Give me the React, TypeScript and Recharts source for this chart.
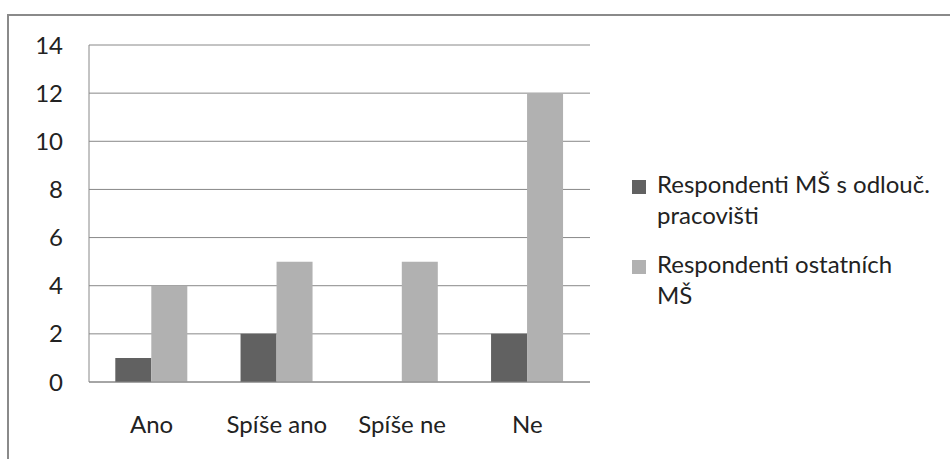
import { BarChart, Bar, XAxis, YAxis, CartesianGrid, Legend } from "recharts";

const categories = ["Ano", "Spíše ano", "Spíše ne", "Ne"];
const odloucena = [1, 2, 0, 2];
const ostatni = [4, 5, 5, 12];
const yTicks = [0, 2, 4, 6, 8, 10, 12, 14];

const seriesNames = ["Respondenti MŠ s odlouč. pracovišti", "Respondenti ostatních MŠ"];
const colors = ["#616161", "#b1b1b1"];

const data = categories.map((name, i) => ({
  name,
  odloucena: odloucena[i],
  ostatni: ostatni[i],
}));

const FONT = "Lato, 'Open Sans', sans-serif";

// legend drawn as HTML so the long names wrap like the original
function LegendBox(props: any) {
  const items = props.payload || [];
  return (
    <div style={{ width: 300, fontFamily: FONT, fontSize: 24, color: "#222" }}>
      {items.map((it: any, i: number) => (
        <div
          key={i}
          style={{ display: "flex", alignItems: "flex-start", marginBottom: 18 }}
        >
          <span
            style={{
              display: "inline-block",
              width: 14,
              height: 14,
              marginTop: 12,
              marginRight: 11,
              background: it.color,
              flex: "none",
            }}
          />
          <span style={{ lineHeight: "31px", width: 285 }}>{it.value}</span>
        </div>
      ))}
    </div>
  );
}

export default function App() {
  return (
    <div
      style={{
        position: "fixed",
        left: 0,
        top: 0,
        width: 950,
        height: 459,
        background: "#fff",
        overflow: "hidden",
      }}
    >
      {/* chart frame, cut off at right and bottom */}
      <div
        style={{
          position: "absolute",
          left: 7,
          top: 14,
          width: 1100,
          height: 1100,
          border: "2px solid #8a8a8a",
        }}
      />
      <div style={{ position: "absolute", left: 0, top: 0 }}>
        <BarChart
          width={950}
          height={459}
          data={data}
          margin={{ top: 45, right: 360, bottom: 37, left: 0 }}
          barCategoryGap="21%"
          barGap={0}
        >
          <CartesianGrid vertical={false} stroke="#888" />
          <XAxis
            dataKey="name"
            height={40}
            tickSize={0}
            tickMargin={34}
            stroke="#888"
            tick={{ fill: "#222", fontSize: 24, fontFamily: FONT }}
          />
          <YAxis
            width={89}
            domain={[0, 14]}
            ticks={yTicks}
            interval={0}
            tickSize={0}
            tickMargin={26}
            stroke="#888"
            tick={{ fill: "#222", fontSize: 24, fontFamily: FONT }}
          />
          <Legend
            layout="vertical"
            align="center"
            verticalAlign="middle"
            content={<LegendBox />}
            wrapperStyle={{ left: 632, top: 168, width: 310 }}
          />
          <Bar
            dataKey="odloucena"
            name={seriesNames[0]}
            fill={colors[0]}
            isAnimationActive={false}
          />
          <Bar
            dataKey="ostatni"
            name={seriesNames[1]}
            fill={colors[1]}
            isAnimationActive={false}
          />
        </BarChart>
      </div>
    </div>
  );
}
